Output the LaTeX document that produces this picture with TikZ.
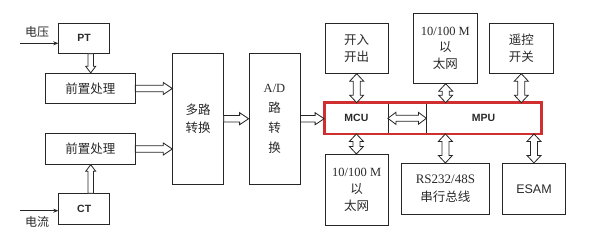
\documentclass[tikz,border=0pt]{standalone}
\usepackage{fontspec}
\setmainfont{Liberation Serif}
\newfontfamily\cjk{Noto Sans CJK SC}
\newfontfamily\arialf{Liberation Sans}
\usetikzlibrary{calc,arrows.meta}
\definecolor{linec}{HTML}{262626}
\definecolor{txtc}{HTML}{2A2A2A}
\definecolor{redc}{HTML}{CF2F2F}
\tikzset{
  box/.style={draw=linec, line width=0.8pt, inner sep=0pt, align=center, text=txtc,
              font=\cjk\fontsize{12.5}{17.5}\selectfont},
  blk/.style={draw=linec, fill=white, line width=0.8pt, line join=miter},
  hR/.style n args={3}{blk, to path={let \p1=(\tikztostart), \p2=(\tikztotarget) in
     (\x1,\y1+#1) -- (\x2-#3,\y1+#1) -- (\x2-#3,\y1+#2) -- (\x2,\y1) -- (\x2-#3,\y1-#2)
     -- (\x2-#3,\y1-#1) -- (\x1,\y1-#1) -- cycle}},
  vD/.style n args={3}{blk, to path={let \p1=(\tikztostart), \p2=(\tikztotarget) in
     (\x1-#1,\y1) -- (\x1-#1,\y2+#3) -- (\x1-#2,\y2+#3) -- (\x1,\y2) -- (\x1+#2,\y2+#3)
     -- (\x1+#1,\y2+#3) -- (\x1+#1,\y1) -- cycle}},
  vU/.style n args={3}{blk, to path={let \p1=(\tikztostart), \p2=(\tikztotarget) in
     (\x1-#1,\y1) -- (\x1-#1,\y2-#3) -- (\x1-#2,\y2-#3) -- (\x1,\y2) -- (\x1+#2,\y2-#3)
     -- (\x1+#1,\y2-#3) -- (\x1+#1,\y1) -- cycle}},
  dV/.style n args={3}{blk, to path={let \p1=(\tikztostart), \p2=(\tikztotarget) in
     (\x1,\y1) -- (\x1+#2,\y1-#3) -- (\x1+#1,\y1-#3) -- (\x1+#1,\y2+#3) -- (\x1+#2,\y2+#3)
     -- (\x1,\y2) -- (\x1-#2,\y2+#3) -- (\x1-#1,\y2+#3) -- (\x1-#1,\y1-#3) -- (\x1-#2,\y1-#3) -- cycle}},
  dH/.style n args={3}{blk, to path={let \p1=(\tikztostart), \p2=(\tikztotarget) in
     (\x1,\y1) -- (\x1+#3,\y1+#2) -- (\x1+#3,\y1+#1) -- (\x2-#3,\y1+#1) -- (\x2-#3,\y1+#2)
     -- (\x2,\y1) -- (\x2-#3,\y1-#2) -- (\x2-#3,\y1-#1) -- (\x1+#3,\y1-#1) -- (\x1+#3,\y1-#2) -- cycle}},
  inarr/.style={draw=linec, line width=0.8pt, -{Stealth[length=5pt,width=4pt]}},
  lbl/.style={inner sep=0pt, text=txtc, font=\cjk\fontsize{12}{14}\selectfont},
  bold/.style={font=\arialf\bfseries\fontsize{10.5}{12}\selectfont},
}
\begin{document}
\begin{tikzpicture}[x=1pt,y=-1pt]
\useasboundingbox[fill=white] (0,0) rectangle (598,244);

% left column
\node[box, bold, minimum width=51pt, minimum height=30pt] (pt) at (84.2,38.3) {PT};
\node[box, minimum width=89.3pt, minimum height=30.4pt] (pre1) at (90.3,88.5) {前置处理};
\node[box, minimum width=89.3pt, minimum height=30.6pt] (pre2) at (90.3,149) {前置处理};
\node[box, bold, minimum width=51pt, minimum height=30.6pt] (ct) at (84.2,209) {CT};

\node[lbl] (uv) at (37,31.5) {电压};
\node[lbl] (ui) at (37,221.7) {电流};
\coordinate (uin) at (20,43.3);
\coordinate (iin) at (20,210.7);
\draw[inarr] (uin) -- (uin -| pt.west);
\draw[inarr] (iin) -- (iin -| ct.west);

% mux and A/D
\node[box, minimum width=50.6pt, minimum height=130.7pt] (mux) at (198,118.7) {多路\\转换};
\node[box, minimum width=51pt, minimum height=130.7pt, font=\fontsize{12.5}{20}\selectfont] (ad) at (274.5,118.7)
  {A/D\\{\cjk 路}\\{\cjk 转}\\{\cjk 换}};

% top row
\node[box, minimum width=63.3pt, minimum height=50pt] (kr) at (356.7,48.3) {开入\\开出};
\node[box, minimum width=64pt, minimum height=70pt, font=\fontsize{12.5}{16.7}\selectfont] (etht) at (445.3,48.3)
  {10/100 M\\{\cjk 以}\\{\cjk 太网}};
\node[box, minimum width=64pt, minimum height=50pt] (yk) at (521.3,48.3) {遥控\\开关};

% processor bar
\node[box, bold, minimum width=63.8pt, minimum height=30.5pt] (mcu) at (356.4,118.3) {MCU};
\node[box, minimum width=37.7pt, minimum height=30.5pt] (mid) at (407.15,118.3) {};
\node[box, bold, minimum width=115pt, minimum height=30.5pt] (mpu) at (483.5,118.3) {MPU};
\draw[draw=redc, line width=2.8pt] (mcu.north west) rectangle (mpu.south east);

% bottom row
\node[box, minimum width=63.3pt, minimum height=70.7pt, font=\fontsize{12.5}{16.7}\selectfont] (ethb) at (356.7,189.7)
  {10/100 M\\{\cjk 以}\\{\cjk 太网}};
\node[box, minimum width=87.8pt, minimum height=50.7pt, font=\fontsize{13}{18.3}\selectfont] (rs) at (445.4,188.7)
  {RS232/48S\\{\cjk\fontsize{12.5}{18.3}\selectfont 串行总线}};
\node[box, minimum width=63.4pt, minimum height=50.7pt, font=\arialf\fontsize{12.5}{15}\selectfont] (esam) at (534,188.7) {ESAM};

% block arrows
\draw[vD={2.8pt}{5pt}{6.6pt}] ([xshift=6.5pt]pt.south) to (pre1.north);
\draw[vU={2.8pt}{5pt}{6.6pt}] ([xshift=6.5pt]ct.north) to (pre2.south);
\draw[hR={3.2pt}{6pt}{9pt}] (pre1.east) to (mux.west);
\draw[hR={3.2pt}{6pt}{9pt}] (pre2.east) to (mux.west);
\draw[hR={3.2pt}{6pt}{9pt}] (mux.east) to (ad.west);
\draw[hR={3.2pt}{6pt}{9pt}] (ad.east) to (mcu.west);
\draw[dH={3pt}{6pt}{8pt}] (mid.west) to (mid.east);
\draw[dV={3.5pt}{7pt}{7.5pt}] (kr.south) to (mcu.north);
\draw[dV={3.5pt}{7pt}{7.5pt}] (mcu.south) to (ethb.north);
\draw[dV={3.5pt}{7pt}{7.5pt}] ([xshift=0.4pt]etht.south) to (mpu.north);
\draw[dV={3.5pt}{7pt}{7.5pt}] (yk.south) to (mpu.north);
\draw[dV={3.5pt}{7pt}{7.5pt}] (mpu.south -| rs.north) to (rs.north);
\draw[dV={3.5pt}{7pt}{7.5pt}] (mpu.south -| esam.north) to (esam.north);
\end{tikzpicture}
\end{document}
